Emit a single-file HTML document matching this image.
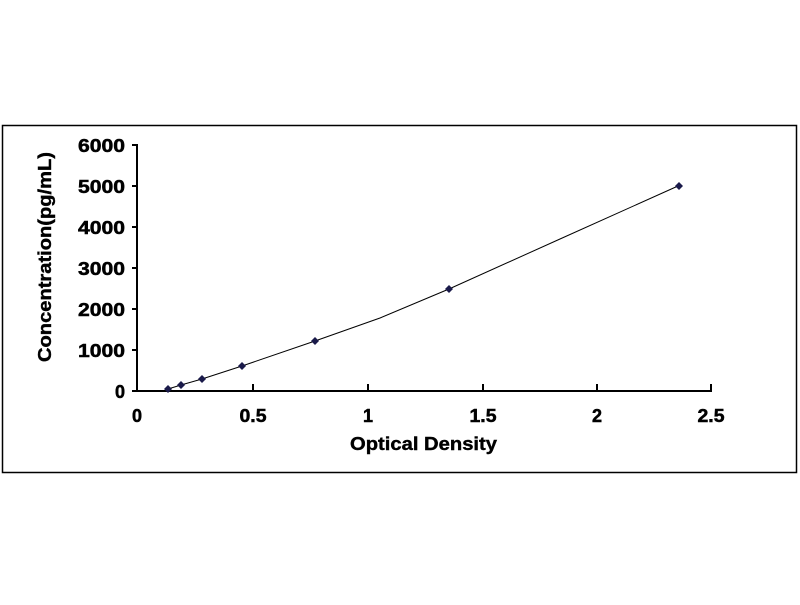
<!DOCTYPE html>
<html><head><style>body{margin:0;background:#fff}</style></head><body>
<svg width="800" height="600" xmlns="http://www.w3.org/2000/svg" font-family="Liberation Sans, Arial, sans-serif" font-weight="bold">
<rect x="2.5" y="125.5" width="794" height="347" fill="#fff" stroke="#000" stroke-width="1.5"/>
<g stroke="#000" stroke-width="2">
<line x1="137" y1="144" x2="137" y2="392"/>
<line x1="136" y1="391" x2="712" y2="391"/>
<line x1="132" y1="145" x2="137" y2="145"/>
<line x1="132" y1="186" x2="137" y2="186"/>
<line x1="132" y1="227" x2="137" y2="227"/>
<line x1="132" y1="268" x2="137" y2="268"/>
<line x1="132" y1="309" x2="137" y2="309"/>
<line x1="132" y1="350" x2="137" y2="350"/>
<line x1="132" y1="391" x2="137" y2="391"/>
<line x1="253" y1="384" x2="253" y2="391"/>
<line x1="368" y1="384" x2="368" y2="391"/>
<line x1="483" y1="384" x2="483" y2="391"/>
<line x1="597" y1="384" x2="597" y2="391"/>
<line x1="711" y1="384" x2="711" y2="391"/>
</g>
<g font-size="18" text-anchor="end" stroke="#000" stroke-width="0.5">
<text x="125" y="152" textLength="47" lengthAdjust="spacingAndGlyphs">6000</text>
<text x="125" y="193" textLength="47" lengthAdjust="spacingAndGlyphs">5000</text>
<text x="125" y="234" textLength="47" lengthAdjust="spacingAndGlyphs">4000</text>
<text x="125" y="275" textLength="47" lengthAdjust="spacingAndGlyphs">3000</text>
<text x="125" y="316" textLength="47" lengthAdjust="spacingAndGlyphs">2000</text>
<text x="125" y="357" textLength="47" lengthAdjust="spacingAndGlyphs">1000</text>
<text x="125" y="398">0</text>
</g>
<g font-size="18" text-anchor="middle" stroke="#000" stroke-width="0.5">
<text x="137" y="422">0</text><text x="253" y="422" textLength="27" lengthAdjust="spacingAndGlyphs">0.5</text><text x="368" y="422">1</text>
<text x="483" y="422" textLength="27" lengthAdjust="spacingAndGlyphs">1.5</text><text x="597" y="422">2</text><text x="711" y="422" textLength="27" lengthAdjust="spacingAndGlyphs">2.5</text>
</g>
<text x="350" y="450" font-size="18" stroke="#000" stroke-width="0.4" textLength="147" lengthAdjust="spacingAndGlyphs">Optical Density</text>
<text transform="translate(51,362) rotate(-90)" font-size="18" stroke="#000" stroke-width="0.4" textLength="210" lengthAdjust="spacingAndGlyphs">Concentration(pg/mL)</text>
<polyline fill="none" stroke="#000" stroke-width="1" points="168,389 181,385 202,379 242,366 315,341 380,318 449,289 560,239 678,186"/>
<g fill="#1a1a4a">
<path d="M168 385l4 4-4 4-4-4z"/><path d="M181 381l4 4-4 4-4-4z"/><path d="M202 375l4 4-4 4-4-4z"/>
<path d="M242 362l4 4-4 4-4-4z"/><path d="M315 337l4 4-4 4-4-4z"/><path d="M449 285l4 4-4 4-4-4z"/>
<path d="M679 182l4 4-4 4-4-4z"/>
</g>
</svg>
</body></html>
